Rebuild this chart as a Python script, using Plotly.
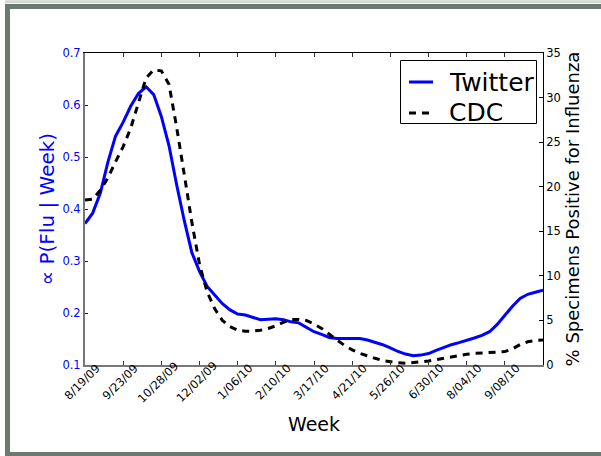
import plotly.graph_objects as go

# Weekly observations starting 2009-08-19 (61 weeks)
n_weeks = 61

# Twitter-based flu estimate, proportional to P(Flu | Week)
twitter = [0.372, 0.392, 0.430, 0.490, 0.540, 0.567, 0.598, 0.622, 0.635, 0.620,
           0.578, 0.522, 0.447, 0.378, 0.316, 0.280, 0.251, 0.235, 0.218, 0.206,
           0.198, 0.196, 0.192, 0.187, 0.188, 0.189, 0.187, 0.183, 0.181, 0.173,
           0.164, 0.159, 0.153, 0.151, 0.151, 0.152, 0.151, 0.148, 0.144, 0.139,
           0.133, 0.126, 0.121, 0.118, 0.119, 0.122, 0.128, 0.134, 0.139, 0.143,
           0.147, 0.152, 0.157, 0.164, 0.178, 0.196, 0.213, 0.228, 0.236, 0.240,
           0.244]

# CDC: % of specimens positive for influenza
cdc = [18.5, 18.6, 19.6, 21.0, 22.8, 24.5, 26.6, 29.5, 32.2, 33.1,
       33.0, 31.5, 26.7, 21.4, 16.0, 11.3, 8.2, 6.3, 5.0, 4.3,
       3.9, 3.8, 3.8, 3.9, 4.1, 4.4, 4.8, 5.1, 5.1, 5.0,
       4.6, 4.1, 3.4, 2.8, 2.2, 1.7, 1.3, 1.0, 0.75, 0.5,
       0.35, 0.25, 0.2, 0.25, 0.35, 0.45, 0.6, 0.75, 0.9, 1.1,
       1.2, 1.3, 1.35, 1.4, 1.45, 1.5, 1.8, 2.3, 2.6, 2.75,
       2.8]

tick_labels = ["8/19/09", "9/23/09", "10/28/09", "12/02/09", "1/06/10", "2/10/10",
               "3/17/10", "4/21/10", "5/26/10", "6/30/10", "8/04/10", "9/08/10"]

series_names = ["Twitter", "CDC"]

weeks = list(range(n_weeks))
tick_weeks = list(range(0, n_weeks, 5))

FONT = "DejaVu Sans"
BLUE = "#0000ff"
FRAME = "#6b7a70"
CDC_DASH = "7px,6px"

# pixel geometry of the plotting area
W, H = 601, 456
L, R, T, B = 85, 58, 53, 91
pw, ph = W - L - R, H - T - B


def px_x(x):
    return (x - L) / pw


def px_y(y):
    return (H - B - y) / ph


fig = go.Figure()
fig.add_trace(go.Scatter(x=weeks, y=twitter, name=series_names[0], mode="lines",
                         line=dict(color=BLUE, width=3), yaxis="y"))
fig.add_trace(go.Scatter(x=weeks, y=cdc, name=series_names[1], mode="lines",
                         line=dict(color="black", width=3, dash=CDC_DASH), yaxis="y2"))
# invisible trace so that the top axis is drawn
fig.add_trace(go.Scatter(x=[0], y=[None], xaxis="x2", yaxis="y", showlegend=False,
                         hoverinfo="skip"))

annotations = []
# rotated date labels, centred under each tick
for wk, lab in zip(tick_weeks, tick_labels):
    annotations.append(dict(x=wk, y=px_y(382), xref="x", yref="paper", text=lab,
                            showarrow=False, textangle=-45, xshift=-3,
                            xanchor="center", yanchor="middle",
                            font=dict(family=FONT, size=11.5, color="black")))

# legend entries
legend_rows = [82, 112]
for name, yrow in zip(series_names, legend_rows):
    annotations.append(dict(x=px_x(447), y=px_y(yrow), xref="paper", yref="paper",
                            text=name, showarrow=False, xanchor="left", yanchor="middle",
                            font=dict(family=FONT, size=25, color="black")))

shapes = [
    # outer frame
    dict(type="rect", xref="paper", yref="paper",
         x0=px_x(7.5), x1=px_x(640), y0=px_y(6.5), y1=px_y(454.5),
         line=dict(color=FRAME, width=5), fillcolor="rgba(0,0,0,0)"),
    dict(type="line", xref="paper", yref="paper",
         x0=px_x(5), x1=px_x(640), y0=px_y(1.8), y1=px_y(1.8),
         line=dict(color="#d3d8d4", width=3)),
    # legend box and samples
    dict(type="rect", xref="paper", yref="paper",
         x0=px_x(400.5), x1=px_x(536.5), y0=px_y(60.5), y1=px_y(123.5),
         line=dict(color="black", width=1), fillcolor="white", layer="above"),
    dict(type="line", xref="paper", yref="paper",
         x0=px_x(409), x1=px_x(433), y0=px_y(legend_rows[0]), y1=px_y(legend_rows[0]),
         line=dict(color=BLUE, width=3)),
    dict(type="line", xref="paper", yref="paper",
         x0=px_x(409), x1=px_x(433), y0=px_y(legend_rows[1] + 1), y1=px_y(legend_rows[1] + 1),
         line=dict(color="black", width=3, dash=CDC_DASH)),
]

fig.update_layout(
    width=W, height=H, autosize=False,
    margin=dict(l=L, r=R, t=T, b=B, pad=0),
    paper_bgcolor="white", plot_bgcolor="white",
    font=dict(family=FONT, size=11.5, color="black"),
    showlegend=False,
    xaxis=dict(range=[0, n_weeks - 1], tickvals=tick_weeks, showticklabels=False,
               ticks="inside", ticklen=4, tickcolor="#333", showgrid=False, zeroline=False,
               showline=True, linecolor="#777", linewidth=2,
               title=dict(text="Week", font=dict(family=FONT, size=19, color="black"),
                          standoff=52)),
    xaxis2=dict(range=[0, n_weeks - 1], tickvals=tick_weeks, showticklabels=False,
                overlaying="x", side="top", ticks="inside", ticklen=4, tickcolor="#333",
                showgrid=False, zeroline=False, showline=True, linecolor="black", linewidth=1),
    yaxis=dict(range=[0.1, 0.7], tickvals=[0.1, 0.2, 0.3, 0.4, 0.5, 0.6, 0.7],
               ticktext=["0.1", "0.2", "0.3", "0.4", "0.5", "0.6", "0.7"],
               ticks="inside", ticklen=3, tickcolor=BLUE,
               tickfont=dict(family=FONT, size=11.5, color=BLUE),
               showgrid=False, zeroline=False, showline=True, linecolor="#777", linewidth=2,
               title=dict(text="∝ P(Flu | Week)", font=dict(family=FONT, size=20, color=BLUE),
                          standoff=2)),
    yaxis2=dict(range=[0, 35], tickvals=[0, 5, 10, 15, 20, 25, 30, 35],
                overlaying="y", side="right", anchor="x",
                ticks="inside", ticklen=4, tickcolor="black",
                tickfont=dict(family=FONT, size=11.5, color="black"),
                showgrid=False, zeroline=False, showline=True, linecolor="black", linewidth=1,
                title=dict(text="% Specimens Positive for Influenza",
                           font=dict(family=FONT, size=18, color="black"), standoff=6)),
    annotations=annotations,
    shapes=shapes,
)

fig.write_html("out.html")
